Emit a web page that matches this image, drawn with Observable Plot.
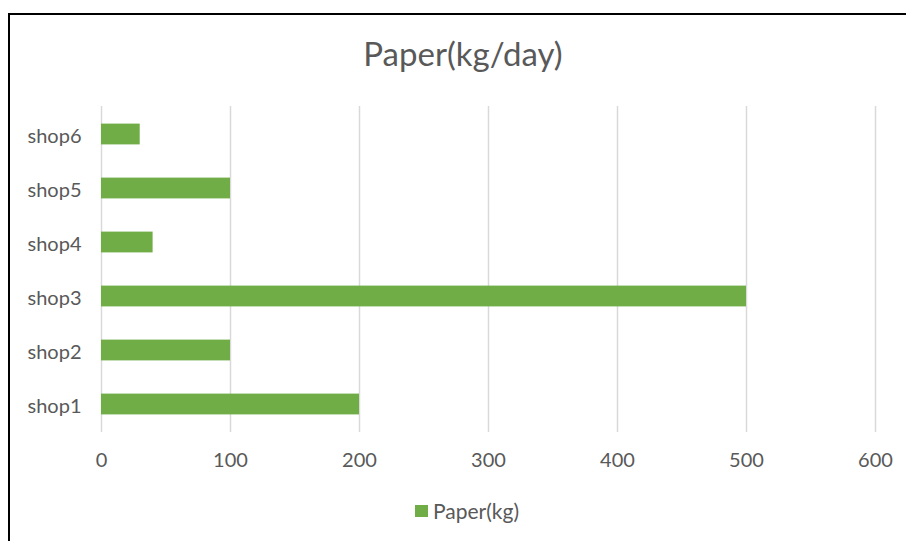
<!DOCTYPE html>
<html>
<head>
<meta charset="utf-8">
<script src="https://cdn.jsdelivr.net/npm/d3@7"></script>
<script src="https://cdn.jsdelivr.net/npm/@observablehq/plot@0.6"></script>
<style>
  html, body { margin: 0; padding: 0; background: #fff; overflow: hidden; }
  body { width: 906px; height: 541px; position: relative; font-family: Lato, "Open Sans", sans-serif; color: #595959; }
  #frame { position: absolute; left: 8px; top: 13px; width: 960px; height: 600px; border: 2px solid #000; box-sizing: border-box; }
  #title { position: absolute; left: 0; width: 926px; top: 33px; text-align: center; font-size: 33px; line-height: 40px; }
  #chart { position: absolute; left: 0; top: 0; }
  #legend { position: absolute; top: 500px; left: 415px; font-size: 21px; line-height: 22px; display: flex; align-items: center; }
  #legend .sw { width: 13px; height: 12px; background: #70AD47; margin-right: 5px; }
</style>
</head>
<body>
<div id="frame"></div>
<div id="chart"></div>
<div id="title">Paper(kg/day)</div>
<div id="legend"><span class="sw"></span><span>Paper(kg)</span></div>
<script>
const shops = ["shop1", "shop2", "shop3", "shop4", "shop5", "shop6"];
const paperKg = [200, 100, 500, 40, 100, 30];
const xTicks = [0, 100, 200, 300, 400, 500, 600];

const data = shops.map((s, i) => ({ shop: s, value: paperKg[i] }));

const chart = Plot.plot({
  width: 906,
  height: 541,
  marginLeft: 101,
  marginRight: 31,
  marginTop: 106,
  marginBottom: 109,
  style: { background: "transparent", fontFamily: "Lato, 'Open Sans', sans-serif", fontSize: "20px", color: "#595959", overflow: "visible" },
  x: { domain: [0, 600], ticks: xTicks, label: null, tickSize: 0 },
  y: { domain: shops.slice().reverse(), padding: 0, label: null, tickSize: 0 },
  marks: [
    Plot.gridX(xTicks, { stroke: "#d9d9d9", strokeOpacity: 1, strokeWidth: 1.5 }),
    Plot.barX(data, { x: "value", y: "shop", fill: "#70AD47", insetTop: 16.6, insetBottom: 16.6 }),
    Plot.axisX({ ticks: xTicks, tickSize: 0, tickPadding: 20, fill: "#595959", label: null }),
    Plot.axisY({ tickSize: 0, tickPadding: 20, fill: "#595959", label: null, dy: 2 })
  ]
});
document.getElementById("chart").appendChild(chart);
</script>
</body>
</html>
